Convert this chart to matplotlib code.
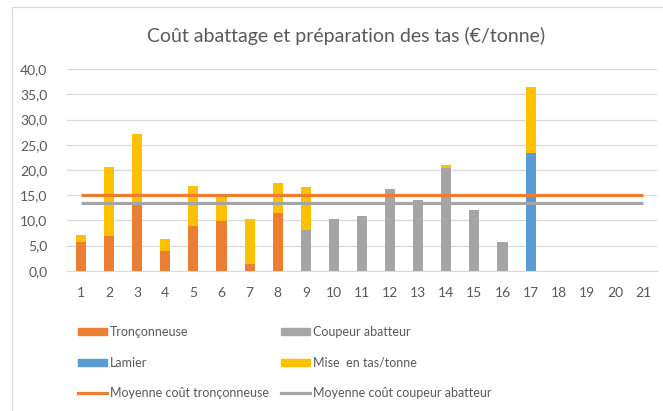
import numpy as np
import matplotlib.pyplot as plt
from matplotlib.patches import Patch, Rectangle
from matplotlib.lines import Line2D

plt.rcParams['font.family'] = ['Lato', 'DejaVu Sans']

#
# data
#
categories = list(range(1, 22))
tronconneuse = [5.6, 6.8, 13.3, 4.0, 8.8, 9.9, 1.4, 11.5, 0, 0, 0, 0, 0, 0, 0, 0, 0, 0, 0, 0, 0]
coupeur = [0, 0, 0, 0, 0, 0, 0, 0, 8.1, 10.2, 10.9, 16.2, 14.0, 20.4, 12.1, 5.7, 0, 0, 0, 0, 0]
lamier = [0, 0, 0, 0, 0, 0, 0, 0, 0, 0, 0, 0, 0, 0, 0, 0, 23.3, 0, 0, 0, 0]
mise_en_tas = [1.4, 13.8, 13.9, 2.2, 8.1, 5.0, 8.9, 5.9, 8.6, 0, 0, 0, 0, 0.5, 0, 0, 13.2, 0, 0, 0, 0]
moy_tronconneuse = [15.1] * 21
moy_coupeur = [13.5] * 21
yticks = [0, 5, 10, 15, 20, 25, 30, 35, 40]

c_orange = '#ED7D31'
c_gray = '#A5A5A5'
c_blue = '#5B9BD5'
c_yellow = '#FFC000'
txt = '#595959'

fig = plt.figure(figsize=(6.63, 4.11), dpi=100)
ax = fig.add_axes([0.101, 0.3414, 0.890, 0.490])

x = np.array(categories)
w = 0.36
base = np.array(tronconneuse) + np.array(coupeur) + np.array(lamier)
ax.bar(x, tronconneuse, w, color=c_orange, zorder=2)
ax.bar(x, coupeur, w, bottom=tronconneuse, color=c_gray, zorder=2)
ax.bar(x, lamier, w, bottom=np.array(tronconneuse) + np.array(coupeur), color=c_blue, zorder=2)
ax.bar(x, mise_en_tas, w, bottom=base, color=c_yellow, zorder=2)
ax.plot(x, moy_tronconneuse, color=c_orange, lw=2.3, solid_capstyle='butt', zorder=3)
ax.plot(x, moy_coupeur, color=c_gray, lw=2.3, solid_capstyle='butt', zorder=3)

ax.set_xlim(0.5, 21.5)
ax.set_ylim(0, 40)
ax.set_xticks(x)
ax.set_xticklabels([str(c) for c in categories])
ax.set_yticks(yticks)
ax.set_yticklabels(['{:.1f}'.format(v).replace('.', ',') for v in yticks])
ax.tick_params(length=0, labelsize=10, colors=txt)
ax.tick_params(axis='x', pad=12)
ax.tick_params(axis='y', pad=14)
ax.grid(axis='y', color='#D9D9D9', lw=0.9, zorder=0)
for s in ['top', 'right', 'left']:
    ax.spines[s].set_visible(False)
ax.spines['bottom'].set_color('#D9D9D9')

fig.text(0.522, 0.913, 'Coût abattage et préparation des tas (€/tonne)',
         ha='center', va='center', fontsize=14, color=txt)

# chart border (left and top edges visible)
fig.patches.append(Rectangle((12 / 663, -0.1), 1.0, 1.1 - 7 / 411, transform=fig.transFigure,
                             fill=False, edgecolor='#D9D9D9', lw=0.9))

h1 = [Patch(color=c_orange, label='Tronçonneuse'),
      Patch(color=c_blue, label='Lamier'),
      Line2D([], [], color=c_orange, lw=2.3, label='Moyenne coût tronçonneuse')]
h2 = [Patch(color=c_gray, label='Coupeur abatteur'),
      Patch(color=c_yellow, label='Mise  en tas/tonne'),
      Line2D([], [], color=c_gray, lw=2.3, label='Moyenne coût coupeur abatteur')]
kw = dict(frameon=False, fontsize=9, handlelength=2.3, handleheight=0.5,
          handletextpad=0.25, labelspacing=1.48, labelcolor=txt, borderaxespad=0)
leg1 = fig.legend(handles=h1, loc='upper left', bbox_to_anchor=(73 / 663, 1 - 321 / 411), **kw)
leg2 = fig.legend(handles=h2, loc='upper left', bbox_to_anchor=(276 / 663, 1 - 321 / 411), **kw)

plt.savefig('out.png', dpi=100)
